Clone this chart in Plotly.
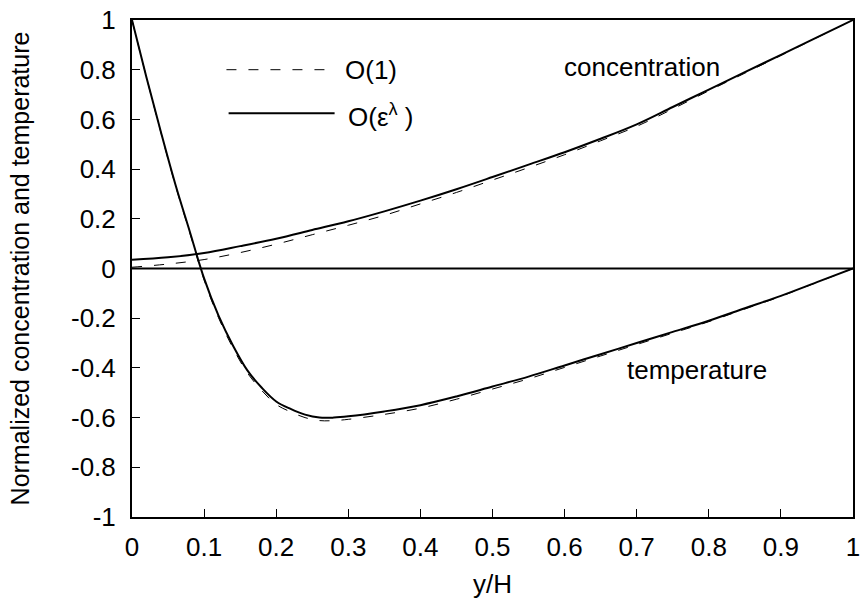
import plotly.graph_objects as go

# Position across the layer, y/H
conc_x = [0.0, 0.05, 0.1, 0.15, 0.2, 0.25, 0.3, 0.35, 0.4, 0.45, 0.5,
          0.55, 0.6, 0.65, 0.7, 0.75, 0.8, 0.85, 0.9, 0.95, 1.0]
# Normalized concentration, leading-order solution O(1)
conc_o1 = [0.005, 0.018, 0.036, 0.064, 0.098, 0.136, 0.174, 0.214, 0.260, 0.306, 0.356,
           0.406, 0.458, 0.514, 0.572, 0.642, 0.715, 0.786, 0.857, 0.929, 1.0]
# Normalized concentration, corrected solution O(eps^lambda)
conc_oe = [0.035, 0.045, 0.062, 0.090, 0.120, 0.155, 0.190, 0.230, 0.273, 0.319, 0.368,
           0.418, 0.468, 0.522, 0.580, 0.650, 0.720, 0.790, 0.860, 0.930, 1.0]

temp_x = [0.0, 0.02, 0.04, 0.06, 0.08, 0.1, 0.12, 0.14, 0.16, 0.18, 0.2,
          0.22, 0.24, 0.26, 0.28, 0.3, 0.35, 0.4, 0.45, 0.5, 0.55,
          0.6, 0.65, 0.7, 0.75, 0.8, 0.85, 0.9, 0.95, 1.0]
# Normalized temperature, O(1)
temp_o1 = [1.0, 0.77, 0.548, 0.336, 0.145, -0.046, -0.198, -0.320, -0.420, -0.491, -0.547,
           -0.577, -0.600, -0.612, -0.612, -0.607, -0.587, -0.562, -0.526, -0.485, -0.444,
           -0.398, -0.352, -0.306, -0.260, -0.214, -0.163, -0.112, -0.056, 0.0]
# Normalized temperature, O(eps^lambda)
temp_oe = [1.0, 0.77, 0.55, 0.34, 0.15, -0.04, -0.19, -0.31, -0.41, -0.48, -0.535,
           -0.565, -0.588, -0.600, -0.600, -0.595, -0.575, -0.550, -0.515, -0.475, -0.435,
           -0.390, -0.345, -0.300, -0.255, -0.210, -0.160, -0.110, -0.055, 0.0]

x_ticks = [0, 0.1, 0.2, 0.3, 0.4, 0.5, 0.6, 0.7, 0.8, 0.9, 1]
x_labels = ["0", "0.1", "0.2", "0.3", "0.4", "0.5", "0.6", "0.7", "0.8", "0.9", "1"]
y_ticks = [1, 0.8, 0.6, 0.4, 0.2, 0, -0.2, -0.4, -0.6, -0.8, -1]
y_labels = ["1", "0.8", "0.6", "0.4", "0.2", "0", "-0.2", "-0.4", "-0.6", "-0.8", "-1"]

FONT = "Liberation Sans, Arial, Helvetica, sans-serif"
BLACK = "#000000"
FS = 26

fig = go.Figure()

dash_style = dict(color=BLACK, width=1, dash="10px,12px")
solid_style = dict(color=BLACK, width=2)

fig.add_trace(go.Scatter(x=conc_x, y=conc_o1, mode="lines", line=dash_style,
                         line_shape="spline", showlegend=False))
fig.add_trace(go.Scatter(x=temp_x, y=temp_o1, mode="lines", line=dash_style,
                         line_shape="spline", showlegend=False))
fig.add_trace(go.Scatter(x=conc_x, y=conc_oe, mode="lines", line=solid_style,
                         line_shape="spline", showlegend=False))
fig.add_trace(go.Scatter(x=temp_x, y=temp_oe, mode="lines", line=solid_style,
                         line_shape="spline", showlegend=False))

# zero reference line
fig.add_hline(y=0, line=dict(color=BLACK, width=2))

# hand-drawn legend: sample lines plus labels
fig.add_shape(type="line", xref="x", yref="y", x0=0.131, x1=0.281, y0=0.80, y1=0.80,
              line=dash_style)
fig.add_shape(type="line", xref="x", yref="y", x0=0.134, x1=0.281, y0=0.625, y1=0.625,
              line=solid_style)
fig.add_annotation(x=0.292, y=0.80, xref="x", yref="y", text="O(1)", showarrow=False,
                   xanchor="left", yanchor="middle", font=dict(family=FONT, size=FS, color=BLACK))
fig.add_annotation(x=0.297, y=0.615, xref="x", yref="y", text="O(ε<sup>λ</sup> )", showarrow=False,
                   xanchor="left", yanchor="middle", font=dict(family=FONT, size=FS, color=BLACK))

# curve labels
fig.add_annotation(x=0.708, y=0.81, xref="x", yref="y", text="concentration", showarrow=False,
                   font=dict(family=FONT, size=FS, color=BLACK))
fig.add_annotation(x=0.783, y=-0.41, xref="x", yref="y", text="temperature", showarrow=False,
                   font=dict(family=FONT, size=FS, color=BLACK))

fig.update_xaxes(range=[0, 1], tickvals=x_ticks, ticktext=x_labels,
                 ticks="inside", ticklen=8, tickwidth=1, tickcolor=BLACK,
                 showline=True, linecolor=BLACK, linewidth=2, mirror=True,
                 showgrid=False, zeroline=False, ticklabelstandoff=6,
                 ticklabeloverflow="allow",
                 tickfont=dict(family=FONT, size=FS, color=BLACK),
                 title=dict(text="y/H", font=dict(family=FONT, size=FS, color=BLACK), standoff=14))
fig.update_yaxes(range=[-1, 1], tickvals=y_ticks, ticktext=y_labels,
                 ticks="inside", ticklen=8, tickwidth=1, tickcolor=BLACK,
                 showline=True, linecolor=BLACK, linewidth=2, mirror=True,
                 showgrid=False, zeroline=False, ticklabelstandoff=9,
                 ticklabeloverflow="allow",
                 tickfont=dict(family=FONT, size=FS, color=BLACK),
                 title=dict(text="Normalized concentration and temperature",
                            font=dict(family=FONT, size=FS - 1, color=BLACK), standoff=34))

fig.update_layout(width=865, height=607, plot_bgcolor="white", paper_bgcolor="white",
                  margin=dict(l=132, r=5, t=14, b=90), showlegend=False)

fig.write_html("out.html")
